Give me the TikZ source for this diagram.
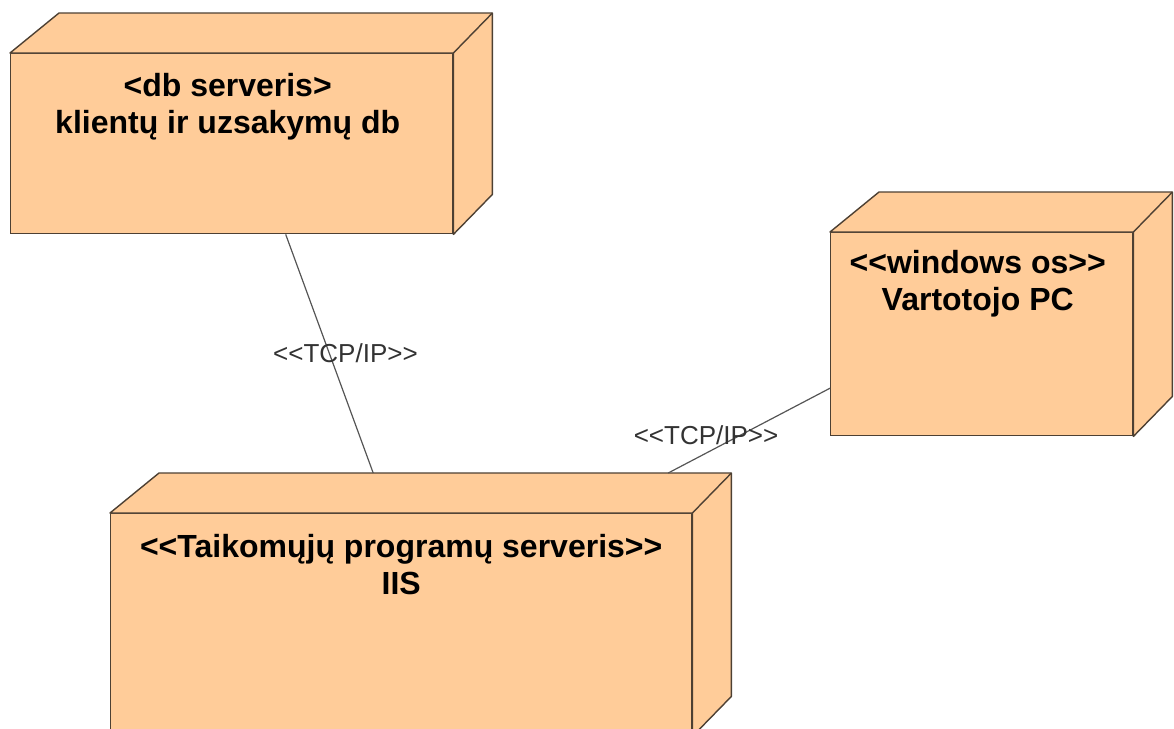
\documentclass[tikz,border=0pt]{standalone}
\usepackage{fontspec}
\setmainfont{Liberation Sans}
\usepackage{tikz}
\usetikzlibrary{positioning}

\definecolor{nodefill}{HTML}{FFCC99}
\definecolor{nodeline}{HTML}{4D4033}
\definecolor{linkline}{HTML}{555555}

\newcommand{\stereo}[1]{<\kern0pt<#1>\kern0pt>}

\tikzset{
	devicebox/.style = {draw = nodeline, fill = nodefill, line width = 1.4pt, anchor = north west, inner sep = 0pt},
	deviceface/.style = {draw = nodeline, fill = nodefill, line width = 1.4pt, line join = round},
	devicetext/.style = {align = center, inner sep = 0pt, font = \fontsize{32}{37}\selectfont\bfseries},
	link/.style = {draw = linkline, line width = 1.2pt},
	linklabel/.style = {inner sep = 0pt, text = black!80, font = \fontsize{26}{30}\selectfont}
}

\newcommand{\devicefaces}[1]{
	\filldraw[deviceface] (#1.north west) -- ([shift = {(49,-40)}]#1.north west) -- ([shift = {(39,-40)}]#1.north east) -- ([shift = {(39,-40)}]#1.south east) -- (#1.south east) -- (#1.north east) -- cycle;
	\draw[deviceface] (#1.north east) -- ([shift = {(39,-40)}]#1.north east);
}

\begin{document}
\begin{tikzpicture}[x = 1pt, y = -1pt]
			\useasboundingbox (0,0) rectangle (1174,728);
			\clip (0,0) rectangle (1174,728);
			\node[devicebox, minimum width = 442pt, minimum height = 180pt] (db) at (10,53) {};
			\devicefaces{db}
			\node[devicebox, minimum width = 302pt, minimum height = 203pt] (pc) at (830,232) {};
			\devicefaces{pc}
			\node[devicebox, minimum width = 581pt, minimum height = 222pt] (iis) at (110,513) {};
			\devicefaces{iis}
			\node[devicetext, below = 20pt of db.north, xshift = -4pt] (dblabel) {<db serveris>\\klientų ir uzsakymų db};
			\node[devicetext, below = 18pt of pc.north, xshift = -4pt] (pclabel) {\stereo{windows os}\\Vartotojo PC};
			\node[devicetext, below = 21pt of iis.north] (iislabel) {\stereo{Taikomųjų programų serveris}\\IIS};
			\draw[link] ([xshift = 54]db.south) -- node[linklabel, pos = 0.5, xshift = 16] (tcpdb) {\stereo{TCP/IP}} ([shift = {(-28,-40)}]iis.north);
			\draw[link] ([yshift = -54]pc.west) -- node[linklabel, pos = 0.55, xshift = -35] (tcppc) {\stereo{TCP/IP}} ([shift = {(267,-40)}]iis.north);
		\end{tikzpicture}
\end{document}
